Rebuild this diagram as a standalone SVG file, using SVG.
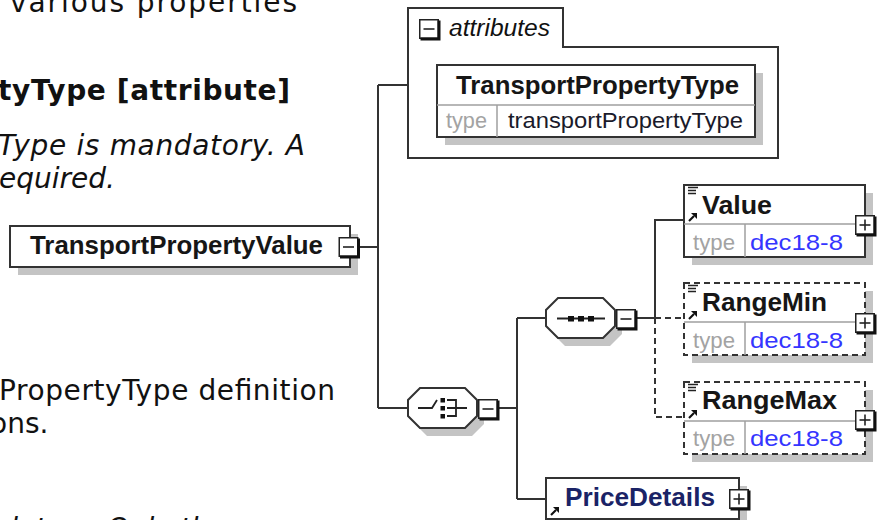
<svg xmlns="http://www.w3.org/2000/svg" xmlns:xlink="http://www.w3.org/1999/xlink" width="879" height="520" viewBox="0 0 879 520">
<style>
.body{font-family:"DejaVu Sans",Verdana,sans-serif;font-size:28px;fill:#111}
.b{font-weight:bold}
.i{font-style:italic}
.dg{font-family:"Liberation Sans",Arial,sans-serif}
.name{font-size:25px;font-weight:bold;fill:#161616}
.tlabel{font-size:22px;fill:#a3a3a3}
.tval{font-size:22px;fill:#3535ff}
.ln{fill:none;stroke:#333;stroke-width:2}
.dash{stroke-dasharray:6 4}
.box{fill:#fff;stroke:#333;stroke-width:2}
.shadow{fill:#c4c4c4}
.div{stroke:#a0a0a0;stroke-width:1.5;fill:none}
</style>
<defs>
<g id="minus">
<rect x="0.75" y="0.75" width="18.5" height="18.5" fill="#fff" stroke="#222" stroke-width="1.5"/>
<path d="M20,1.5 V20 H1.5" fill="none" stroke="#111" stroke-width="3"/>
<path d="M4.5,10 H15.5" stroke="#222" stroke-width="1.6"/>
</g>
<g id="plus">
<use xlink:href="#minus"/>
<path d="M10,4.5 V15.5" stroke="#222" stroke-width="1.6"/>
</g>
<g id="lines">
<path d="M0,0.5 H10 M0,3.5 H8 M0,6.5 H8" stroke="#222" stroke-width="1.3"/>
</g>
<g id="arrow">
<path d="M1,9 L6,4" stroke="#111" stroke-width="2.2"/>
<path d="M3,1 H9 V7 Z" fill="#111"/>
</g>
</defs>

<!-- body text -->
<g id="text">
<text class="body" x="10" y="12" textLength="287">various properties</text>
<text class="body b" x="-2" y="100" textLength="292">tyType [attribute]</text>
<text class="body i" x="-2" y="155" textLength="307">Type is mandatory. A</text>
<text class="body i" x="-1" y="188" textLength="116">equired.</text>
<text class="body" x="-1" y="400" textLength="336">PropertyType definition</text>
<text class="body" x="-10" y="433">ons.</text>
<text class="body i" x="0" y="538">datory. Only the</text>
</g>

<!-- connectors -->
<g id="connectors">
<path class="ln" d="M359,247 H378 M378,85 V408 M378,85 H408 M378,408 H408"/>
<path class="ln" d="M498,408 H517 M517,318 V499 M517,318 H546 M517,499 H546"/>
<path class="ln" d="M637,318 H655 M655,318 V220 H684"/>
<path class="ln dash" d="M655,318 H684 M655,318 V417 H684"/>
</g>

<!-- main node -->
<g id="TransportPropertyValue">
<rect class="shadow" x="18" y="234" width="340" height="41"/>
<rect class="box" x="10" y="226" width="340" height="41"/>
<text class="dg name" x="30" y="254" textLength="293" lengthAdjust="spacingAndGlyphs">TransportPropertyValue</text>
<use xlink:href="#minus" x="338.5" y="237"/>
</g>

<!-- attributes group -->
<g id="attributes">
<path class="box" d="M408,8 H563 V47 H778 V158 H408 Z"/>
<use xlink:href="#minus" x="419" y="19"/>
<text class="dg i" x="449" y="36" font-size="23" fill="#111" textLength="101" lengthAdjust="spacingAndGlyphs">attributes</text>
</g>
<g id="TransportPropertyType">
<rect class="shadow" x="445" y="73" width="318" height="72"/>
<rect class="box" x="437" y="65" width="318" height="72"/>
<path class="div" d="M437,105 H755 M497,105 V137"/>
<text class="dg name" x="456" y="94" textLength="283" lengthAdjust="spacingAndGlyphs">TransportPropertyType</text>
<text class="dg tlabel" x="446" y="128" textLength="41" lengthAdjust="spacingAndGlyphs">type</text>
<text class="dg" x="508" y="128" font-size="22" fill="#1a1a2a" textLength="235" lengthAdjust="spacingAndGlyphs">transportPropertyType</text>
</g>

<!-- choice compositor -->
<g id="choice">
<path class="shadow" d="M427,396 H472 L484,408 V424 L472,436 H427 L415,424 V408 Z"/>
<path class="box" d="M420,388 H465 L477,400 V416 L465,428 H420 L408,416 V400 Z"/>
<path d="M418,408 H432 L437,400" fill="none" stroke="#222" stroke-width="1.8"/>
<rect x="440.5" y="398" width="4.5" height="4.5" fill="#111"/>
<rect x="440.5" y="406" width="4.5" height="4.5" fill="#111"/>
<rect x="440.5" y="414" width="4.5" height="4.5" fill="#111"/>
<path d="M447,400 H456 V416 H447 M447,408 H467" fill="none" stroke="#222" stroke-width="1.8"/>
<use xlink:href="#minus" x="478" y="399"/>
</g>

<!-- sequence compositor -->
<g id="sequence">
<path class="shadow" d="M565,306 H610 L622,318 V334 L610,346 H565 L553,334 V318 Z"/>
<path class="box" d="M558,298 H603 L615,310 V326 L603,338 H558 L546,326 V310 Z"/>
<path d="M557,318.5 H605" stroke="#222" stroke-width="1.8"/>
<rect x="568" y="316" width="6" height="5.5" fill="#111"/>
<rect x="578" y="316" width="6" height="5.5" fill="#111"/>
<rect x="588" y="316" width="6" height="5.5" fill="#111"/>
<use xlink:href="#minus" x="616" y="309"/>
</g>

<!-- Value -->
<g id="Value">
<rect class="shadow" x="692" y="193" width="181" height="72"/>
<rect class="box" x="684" y="185" width="181" height="72"/>
<path class="div" d="M684,224 H865 M745,224 V257"/>
<use xlink:href="#lines" x="688" y="187"/>
<use xlink:href="#arrow" x="688" y="212"/>
<text class="dg name" x="702" y="214" textLength="70" lengthAdjust="spacingAndGlyphs">Value</text>
<text class="dg tlabel" x="693" y="250" textLength="42" lengthAdjust="spacingAndGlyphs">type</text>
<text class="dg tval" x="750" y="250" textLength="93" lengthAdjust="spacingAndGlyphs">dec18-8</text>
<use xlink:href="#plus" x="855" y="215"/>
</g>

<!-- RangeMin -->
<g id="RangeMin">
<rect class="shadow" x="692" y="291" width="181" height="72"/>
<rect class="box dash" x="684" y="283" width="181" height="72"/>
<path class="div" d="M684,322 H865 M745,322 V355"/>
<use xlink:href="#lines" x="688" y="285"/>
<use xlink:href="#arrow" x="688" y="310"/>
<text class="dg name" x="702" y="311" textLength="125" lengthAdjust="spacingAndGlyphs">RangeMin</text>
<text class="dg tlabel" x="693" y="348" textLength="42" lengthAdjust="spacingAndGlyphs">type</text>
<text class="dg tval" x="750" y="348" textLength="93" lengthAdjust="spacingAndGlyphs">dec18-8</text>
<use xlink:href="#plus" x="855" y="313"/>
</g>

<!-- RangeMax -->
<g id="RangeMax">
<rect class="shadow" x="692" y="390" width="181" height="72"/>
<rect class="box dash" x="684" y="382" width="181" height="72"/>
<path class="div" d="M684,421 H865 M745,421 V454"/>
<use xlink:href="#lines" x="688" y="384"/>
<use xlink:href="#arrow" x="688" y="409"/>
<text class="dg name" x="702" y="409" textLength="135" lengthAdjust="spacingAndGlyphs">RangeMax</text>
<text class="dg tlabel" x="693" y="446" textLength="42" lengthAdjust="spacingAndGlyphs">type</text>
<text class="dg tval" x="750" y="446" textLength="93" lengthAdjust="spacingAndGlyphs">dec18-8</text>
<use xlink:href="#plus" x="855" y="410"/>
</g>

<!-- PriceDetails -->
<g id="PriceDetails">
<rect class="shadow" x="554" y="486" width="193" height="41"/>
<rect class="box" x="546" y="478" width="193" height="41"/>
<use xlink:href="#arrow" x="550" y="506"/>
<text class="dg name" x="565" y="506" textLength="150" lengthAdjust="spacingAndGlyphs" style="fill:#1a2366">PriceDetails</text>
<use xlink:href="#plus" x="729" y="489"/>
</g>
</svg>
